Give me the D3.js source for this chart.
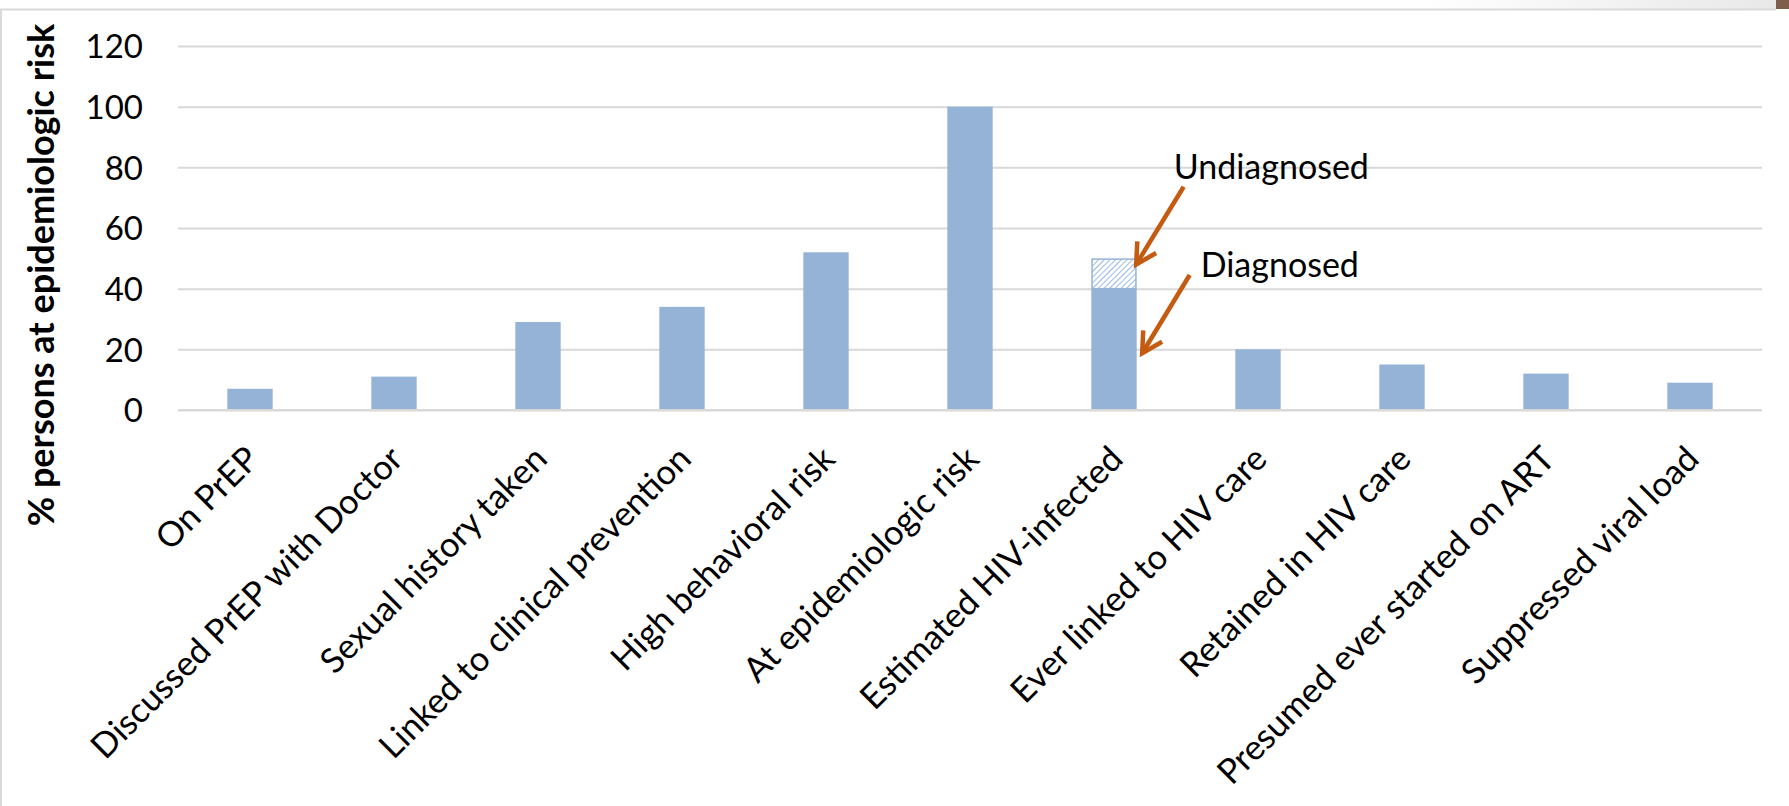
<!DOCTYPE html>
<html>
<head>
<meta charset="utf-8">
<script src="https://cdn.jsdelivr.net/npm/d3@7"></script>
<style>
  html, body { margin: 0; padding: 0; background: #ffffff; }
  svg { display: block; }
  text { font-family: Lato, "Open Sans", sans-serif; fill: #000; }
</style>
</head>
<body>
<svg id="chart" width="1789" height="806"></svg>
<script>
// ---- data ----
const categories = [
  "On PrEP",
  "Discussed PrEP with Doctor",
  "Sexual history taken",
  "Linked to clinical prevention",
  "High behavioral risk",
  "At epidemiologic risk",
  "Estimated HIV-infected",
  "Ever linked to HIV care",
  "Retained in HIV care",
  "Presumed ever started on ART",
  "Suppressed viral load"
];
const mainValues = [7, 11, 29, 34, 52, 100, 40, 20, 15, 12, 9];      // solid bars (diagnosed for HIV-infected)
const undiagnosedValues = [0, 0, 0, 0, 0, 0, 10, 0, 0, 0, 0];          // hatched segment
const yTicks = [0, 20, 40, 60, 80, 100, 120];
const yTitle = "% persons at epidemiologic risk";
const annotations = [
  { label: "Undiagnosed", category: "Estimated HIV-infected", tipValue: 48, startValue: 73.6, textValue: 76 },
  { label: "Diagnosed",   category: "Estimated HIV-infected", tipValue: 18.7, startValue: 44.5, textValue: 44 }
];

// ---- layout ----
const W = 1789, H = 806;
const plot = { left: 178, right: 1762, top: 46, bottom: 410 };
const barColor = "#95b3d7";
const gridColor = "#d9d9d9";
const arrowColor = "#c55a11";

const svg = d3.select("#chart");

const x = d3.scaleBand()
  .domain(categories)
  .range([plot.left, plot.right])
  .paddingInner(0.685)
  .paddingOuter(0.685 / 2);

const y = d3.scaleLinear().domain([0, 120]).range([plot.bottom, plot.top]);

// frame decoration
const defs = svg.append("defs");
const grad = defs.append("linearGradient").attr("id", "topgrad").attr("x1", 0).attr("x2", 1).attr("y1", 0).attr("y2", 0);
grad.append("stop").attr("offset", "0.8").attr("stop-color", "#ffffff");
grad.append("stop").attr("offset", "1").attr("stop-color", "#e8e8e8");
svg.append("rect").attr("x", 0).attr("y", 0).attr("width", 1776).attr("height", 9).attr("fill", "url(#topgrad)");
svg.append("rect").attr("x", 1776).attr("y", 0).attr("width", 13).attr("height", 9).attr("fill", "#7f5d4d");
svg.append("line").attr("x1", 0).attr("x2", 1776).attr("y1", 9.5).attr("y2", 9.5).attr("stroke", "#d9d9d9").attr("stroke-width", 2);
svg.append("line").attr("x1", 1).attr("x2", 1).attr("y1", 9).attr("y2", H).attr("stroke", "#d9d9d9").attr("stroke-width", 2);

// hatch pattern
const pat = defs.append("pattern").attr("id", "hatch").attr("patternUnits", "userSpaceOnUse")
  .attr("width", 4).attr("height", 4).attr("patternTransform", "rotate(45)");
pat.append("rect").attr("width", 4).attr("height", 4).attr("fill", "#ffffff");
pat.append("line").attr("x1", 0).attr("y1", 0).attr("x2", 0).attr("y2", 4).attr("stroke", "#8db3e2").attr("stroke-width", 1.8);

// gridlines + y tick labels
const yAxis = d3.axisLeft(y).tickValues(yTicks).tickSize(-(plot.right - plot.left)).tickPadding(35).tickFormat(d3.format("d"));
const gy = svg.append("g").attr("transform", `translate(${plot.left},0)`).call(yAxis);
gy.select(".domain").remove();
gy.selectAll(".tick line").attr("stroke", gridColor).attr("stroke-width", 2);
gy.selectAll(".tick text")
  .attr("font-size", 33)
  .attr("dy", "0.36em")
  .style("font-family", "Lato, 'Open Sans', sans-serif")
  .attr("fill", "#000");

// bars
svg.append("g").selectAll("rect.main")
  .data(categories)
  .join("rect")
  .attr("class", "main")
  .attr("x", d => x(d))
  .attr("width", x.bandwidth())
  .attr("y", (d, i) => y(mainValues[i]))
  .attr("height", (d, i) => y(0) - y(mainValues[i]))
  .attr("fill", barColor);

svg.append("g").selectAll("rect.undiag")
  .data(categories.filter((d, i) => undiagnosedValues[i] > 0))
  .join("rect")
  .attr("class", "undiag")
  .attr("x", d => x(d) + 0.75)
  .attr("width", x.bandwidth() - 1.5)
  .attr("y", d => { const i = categories.indexOf(d); return y(mainValues[i] + undiagnosedValues[i]) + 0.75; })
  .attr("height", d => { const i = categories.indexOf(d); return y(mainValues[i]) - y(mainValues[i] + undiagnosedValues[i]) - 0.75; })
  .attr("fill", "url(#hatch)")
  .attr("stroke", barColor)
  .attr("stroke-width", 1.5);

// x axis baseline
svg.append("line").attr("x1", plot.left).attr("x2", plot.right)
  .attr("y1", y(0)).attr("y2", y(0)).attr("stroke", gridColor).attr("stroke-width", 2);

// x labels
const xAxis = d3.axisBottom(x).tickSize(0).tickPadding(0);
const gx = svg.append("g").attr("transform", `translate(0,${plot.bottom})`).call(xAxis);
gx.select(".domain").remove();
gx.selectAll(".tick text")
  .attr("font-size", 34.5)
  .style("font-family", "Lato, 'Open Sans', sans-serif")
  .attr("fill", "#000")
  .attr("text-anchor", "end")
  .attr("dy", null)
  .attr("y", null)
  .attr("transform", "translate(11,51) rotate(-45)");

// y title
svg.append("text")
  .attr("transform", "translate(54,275) rotate(-90)")
  .attr("text-anchor", "middle")
  .attr("font-size", 36)
  .attr("font-weight", "bold")
  .text(yTitle);

// annotations
const ann = svg.append("g");
annotations.forEach((a, k) => {
  const bx = x(a.category) + x.bandwidth();
  const tip = [bx + (k === 0 ? -0.5 : 5.5), y(a.tipValue)];
  const start = [bx + (k === 0 ? 47 : 53), y(a.startValue)];
  ann.append("line")
    .attr("x1", start[0]).attr("y1", start[1]).attr("x2", tip[0]).attr("y2", tip[1])
    .attr("stroke", arrowColor).attr("stroke-width", 4.5);
  const ang = Math.atan2(start[1] - tip[1], start[0] - tip[0]);
  const L = 23, spread = 0.5;
  const p1 = [tip[0] + L * Math.cos(ang - spread), tip[1] + L * Math.sin(ang - spread)];
  const p2 = [tip[0] + L * Math.cos(ang + spread), tip[1] + L * Math.sin(ang + spread)];
  ann.append("path")
    .attr("d", `M${p1[0]},${p1[1]} L${tip[0]},${tip[1]} L${p2[0]},${p2[1]}`)
    .attr("fill", "none").attr("stroke", arrowColor).attr("stroke-width", 4.5)
    .attr("stroke-linejoin", "miter").attr("stroke-linecap", "butt");
  ann.append("text")
    .attr("x", bx + (k === 0 ? 37 : 64))
    .attr("y", y(a.textValue))
    .attr("font-size", 34)
    .text(a.label);
});
</script>
</body>
</html>
